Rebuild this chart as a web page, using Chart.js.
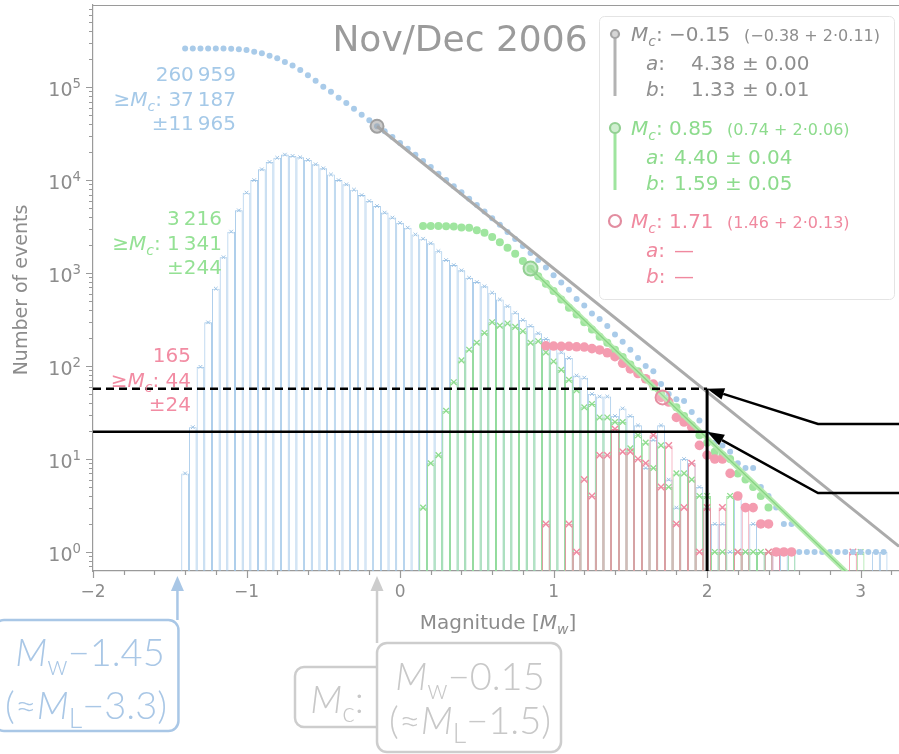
<!DOCTYPE html>
<html>
<head>
<meta charset="utf-8">
<title>Nov/Dec 2006 magnitude-frequency</title>
<script src="https://cdn.jsdelivr.net/npm/chart.js@4.4.1/dist/chart.umd.min.js"></script>
<style>
    html, body { margin: 0; padding: 0; background: #fff; }
    canvas { display: block; }
</style>
</head>
<body>
<canvas id="gr" width="899" height="754"></canvas>
<script>
// Magnitude bin centres (Mw), 0.05 wide
const magBins = [
    -1.40, -1.35, -1.30, -1.25, -1.20, -1.15, -1.10, -1.05, -1.00, -0.95,
    -0.90, -0.85, -0.80, -0.75, -0.70, -0.65, -0.60, -0.55, -0.50, -0.45,
    -0.40, -0.35, -0.30, -0.25, -0.20, -0.15, -0.10, -0.05, 0.00, 0.05,
    0.10, 0.15, 0.20, 0.25, 0.30, 0.35, 0.40, 0.45, 0.50, 0.55,
    0.60, 0.65, 0.70, 0.75, 0.80, 0.85, 0.90, 0.95, 1.00, 1.05,
    1.10, 1.15, 1.20, 1.25, 1.30, 1.35, 1.40, 1.45, 1.50, 1.55,
    1.60, 1.65, 1.70, 1.75, 1.80, 1.85, 1.90, 1.95, 2.00, 2.05,
    2.10, 2.15, 2.20, 2.25, 2.30, 2.35, 2.40, 2.45, 2.50, 2.55,
    2.60, 2.65, 2.70, 2.75, 2.80, 2.85, 2.90, 2.95, 3.00, 3.05,
    3.10, 3.15
];

// Events per bin: whole catalogue (blue), mid subset (green), high subset (red)
const histAll = [
    7, 22, 98, 295, 680, 1480, 2790, 4730, 7330, 10000,
    13060, 15670, 17400, 18800, 18200, 17600, 16500, 14800, 13400, 11500,
    10000, 9000, 7900, 6900, 5960, 5260, 4470, 3950, 3470, 3080,
    2600, 2340, 2090, 1720, 1380, 1220, 1070, 890, 800, 720,
    615, 520, 440, 375, 313, 270, 225, 195, 163, 140,
    122, 79, 75, 50, 47, 47, 29, 35, 29, 23,
    8, 16, 23, 6, 3, 10, 9, 5, 3, 2,
    2, 1, 4, 1, 2, 1, 1, 1, 1, 1,
    null, null, null, null, null, null, null, null, null, null,
    1, 1
];
const histMid = [
    null, null, null, null, null, null, null, null, null, null,
    null, null, null, null, null, null, null, null, null, null,
    null, null, null, null, null, null, null, null, null, null,
    null, 3, 9, 11, 33, 67, 115, 150, 178, 227,
    296, 272, 287, 264, 237, 178, 185, 140, 112, 91,
    71, 55, 36, 39, 28, 28, 25, 25, 13, 18,
    15, 8, 14, 5, 7, 7, 6, 4, 4, 1,
    1, 4, 1, 1, 1, 1, 1, null, null, 1,
    null, null, null, null, null, null, null, null, 1, null,
    null, null
];
const histHigh = [
    null, null, null, null, null, null, null, null, null, null,
    null, null, null, null, null, null, null, null, null, null,
    null, null, null, null, null, null, null, null, null, null,
    null, null, null, null, null, null, null, null, null, null,
    null, null, null, null, null, null, null, 2, null, null,
    2, 1, 6, 4, 11, 11, 21, 12, 12, 10,
    9, 18, 5, 14, 2, 3, 9, 1, 3, null,
    3, null, 1, 3, null, null, 1, 1, null, null,
    null, null, null, null, null, null, null, 1, null, null,
    null, null
];

// Cumulative counts (events >= M)
const cumAll = [
    261000, 261000, 260900, 260800, 260500, 259900, 258400, 255600, 251000, 241000,
    231000, 218000, 204000, 187000, 171000, 153000, 134000, 117000, 101000, 89000,
    77000, 67500, 58500, 50500, 44000, 38000, 33500, 29000, 25000, 21700,
    18700, 16100, 13800, 11700, 10000, 8600, 7400, 6300, 5400, 4600,
    3900, 3300, 2770, 2330, 1950, 1640, 1380, 1150, 950, 790,
    660, 526, 447, 367, 321, 269, 218, 182, 150, 122,
    100, 88, 64, 50, 44, 42, 32, 26, 19, 15,
    14, 12, 9, 8, 8, 5, 4, 3, 2, 2,
    1, 1, 1, 1, 1, 1, 1, 1, 1, 1,
    1, 1
];
const cumMid = [
    null, null, null, null, null, null, null, null, null, null,
    null, null, null, null, null, null, null, null, null, null,
    null, null, null, null, null, null, null, null, null, null,
    null, 3216, 3210, 3200, 3190, 3160, 3100, 3080, 2880, 2715,
    2440, 2150, 1870, 1615, 1345, 1112, 926, 767, 640, 520,
    423, 358, 295, 247, 206, 178, 150, 125, 104, 88,
    72, 60, 50, 42, 36, 29, 23, 18, 15, 12,
    11, 10, 7, 6, 5, 4, 3, 1, 1, 1,
    null, null, null, null, null, null, null, null, null, null,
    null, null
];
const cumHigh = [
    null, null, null, null, null, null, null, null, null, null,
    null, null, null, null, null, null, null, null, null, null,
    null, null, null, null, null, null, null, null, null, null,
    null, null, null, null, null, null, null, null, null, null,
    null, null, null, null, null, null, null, 165, 164, 163,
    163, 161, 160, 154, 149, 139, 126, 107, 93, 83,
    73, 64, 46, 41, 28, 25, 22, 14, 11, 10,
    10, 7, 4, 3, 3, 2, 2, 1, 1, 1,
    null, null, null, null, null, null, null, null, null, null,
    null, null
];

// Gutenberg-Richter fits (end points) and completeness magnitudes
const fitAllMag = [-0.15, 3.25];
const fitAllN = [38000, 1.15];
const fitMidMag = [0.85, 2.95];
const fitMidN = [1118, 0.52];
const mcMag = [-0.15, 0.85, 1.71];
const mcN = [38000, 1118, 46];

// Reference lines at Mw 2
const refMag = 2.0;
const refLevels = [57, 19.6];

// Axis ticks
const xTicks = [-2, -1, 0, 1, 2, 3];
const yTicks = [1, 10, 100, 1000, 10000, 100000];

// Colours
const BLUE = '#a0c6e8';
const GREEN = '#90df90';
const RED = '#f08aa1';
const GREY = '#ababab';
const TXT = '#8c8c8c';
const FONT = '"DejaVu Sans", sans-serif';
const BOXFONT = 'Lato, "Open Sans", sans-serif';

function toPoints(values) {
    const out = [];
    values.forEach((v, i) => {
        if (v !== null) out.push({ x: magBins[i], y: v });
    });
    return out;
}

function pairPoints(xs, ys) {
    return xs.map((x, i) => ({ x: x, y: ys[i] }));
}

function barSet(values, color, order) {
    return {
        type: 'bar', data: toPoints(values), order: order,
        backgroundColor: 'rgba(0,0,0,0)', borderColor: color, borderWidth: 0.85,
        inflateAmount: 0, borderSkipped: 'bottom',
        grouped: false, barPercentage: 1, categoryPercentage: 1
    };
}

function markSet(values, color, radius, width, order) {
    return {
        type: 'scatter', data: toPoints(values), order: order,
        pointStyle: 'crossRot', pointRadius: radius, borderColor: color, borderWidth: width
    };
}

function dotSet(values, color, radius, order) {
    return {
        type: 'scatter', data: toPoints(values), order: order,
        pointStyle: 'circle', pointRadius: radius, backgroundColor: color, borderWidth: 0
    };
}

function lineSet(data, color, width, order, dash) {
    return {
        type: 'line', data: data, order: order, borderColor: color, borderWidth: width,
        borderDash: dash || [], pointRadius: 0, fill: false, tension: 0
    };
}

// ---- rich text helpers (italic / sub / superscript pieces) ----
function partFont(p, size, family) {
    let s = size * (p.sc || 1);
    let dy = 0;
    if (p.sub) { s = size * 0.7; dy = size * 0.24; }
    if (p.sup) { s = size * 0.7; dy = -size * 0.42; }
    return { font: (p.it ? 'italic ' : '') + (p.w ? p.w + ' ' : '') + s + 'px ' + family, dy: dy };
}

function drawRich(ctx, parts, x, yc, size, color, align, family) {
    family = family || FONT;
    ctx.save();
    ctx.fillStyle = color;
    ctx.textBaseline = 'alphabetic';
    ctx.textAlign = 'left';
    const widths = parts.map(p => {
        ctx.font = partFont(p, size, family).font;
        return ctx.measureText(p.t).width;
    });
    const total = widths.reduce((a, b) => a + b, 0);
    let cx = align === 'right' ? x - total : (align === 'center' ? x - total / 2 : x);
    const base = yc + size * 0.36;
    parts.forEach((p, i) => {
        const f = partFont(p, size, family);
        ctx.font = f.font;
        ctx.fillText(p.t, cx, base + f.dy);
        cx += widths[i];
    });
    ctx.restore();
}

function roundBox(ctx, x, y, w, h, r, stroke, lw, fill) {
    ctx.beginPath();
    ctx.roundRect(x, y, w, h, r);
    if (fill) { ctx.fillStyle = fill; ctx.fill(); }
    ctx.strokeStyle = stroke;
    ctx.lineWidth = lw;
    ctx.stroke();
}

function arrowPath(ctx, pts, color, lw, headLen, headW) {
    const n = pts.length;
    const [tx, ty] = pts[n - 1];
    const [px, py] = pts[n - 2];
    const ang = Math.atan2(ty - py, tx - px);
    const bx = tx - headLen * Math.cos(ang);
    const by = ty - headLen * Math.sin(ang);
    ctx.save();
    ctx.strokeStyle = color;
    ctx.fillStyle = color;
    ctx.lineWidth = lw;
    ctx.beginPath();
    ctx.moveTo(pts[0][0], pts[0][1]);
    for (let i = 1; i < n - 1; i++) ctx.lineTo(pts[i][0], pts[i][1]);
    ctx.lineTo(bx, by);
    ctx.stroke();
    ctx.beginPath();
    ctx.moveTo(tx, ty);
    ctx.lineTo(bx + headW * Math.sin(ang), by - headW * Math.cos(ang));
    ctx.lineTo(bx - headW * Math.sin(ang), by + headW * Math.cos(ang));
    ctx.closePath();
    ctx.fill();
    ctx.restore();
}

const Mc = [{ t: 'M', it: true }, { t: 'c', it: true, sub: true }];

// ---- everything drawn around the data ----
const decorations = {
    id: 'decorations',
    afterDraw(chart) {
        const ctx = chart.ctx;
        const xs = chart.scales.x;
        const ys = chart.scales.y;
        const area = chart.chartArea;

        // ticks (major + minor)
        ctx.save();
        ctx.strokeStyle = '#9a9a9a';
        ctx.lineWidth = 1.2;
        ctx.beginPath();
        for (let k = 0; k <= 26; k++) {
            const v = -2 + k * 0.2;
            const px = Math.round(xs.getPixelForValue(v)) + 0.5;
            ctx.moveTo(px, area.bottom);
            ctx.lineTo(px, area.bottom + (k % 5 === 0 ? 7 : 4));
        }
        for (let e = -1; e <= 5; e++) {
            for (let m = 1; m <= 9; m++) {
                const v = m * Math.pow(10, e);
                if (v < ys.min || v > ys.max) continue;
                const py = Math.round(ys.getPixelForValue(v)) + 0.5;
                ctx.moveTo(area.left, py);
                ctx.lineTo(area.left - (m === 1 ? 7 : 4), py);
            }
        }
        ctx.stroke();
        // top spine
        ctx.beginPath();
        ctx.moveTo(area.left, area.top + 0.5);
        ctx.lineTo(area.right, area.top + 0.5);
        ctx.stroke();
        ctx.restore();

        // y tick labels as 10^n
        yTicks.forEach(v => {
            const e = String(Math.round(Math.log10(v)));
            drawRich(ctx, [{ t: '10' }, { t: e, sup: true }], area.left - 12, ys.getPixelForValue(v) + 2, 19, TXT, 'right');
        });

        // axis titles
        ctx.save();
        ctx.fillStyle = TXT;
        ctx.font = '19px ' + FONT;
        ctx.textAlign = 'center';
        ctx.textBaseline = 'middle';
        ctx.translate(22, 290);
        ctx.rotate(-Math.PI / 2);
        ctx.fillText('Number of events', 0, 0);
        ctx.restore();
        drawRich(ctx, [{ t: 'Magnitude [' }, { t: 'M', it: true }, { t: 'w', it: true, sub: true }, { t: ']' }],
            498, 622, 20, TXT, 'center');

        // period title
        drawRich(ctx, [{ t: 'Nov/Dec 2006' }], 460, 38, 36, '#9b9b9b', 'center');

        // event counts
        const counts = [
            { c: '#a5c9e8', x: 236, y: 74, rows: ['260\u2009959', '37\u2009187', '\u00b111\u2009965'] },
            { c: '#94e194', x: 222, y: 218, rows: ['3\u2009216', '1\u2009341', '\u00b1244'] },
            { c: '#f28ca3', x: 191, y: 355, rows: ['165', '44', '\u00b124'] }
        ];
        counts.forEach(g => {
            drawRich(ctx, [{ t: g.rows[0] }], g.x, g.y, 20, g.c, 'right');
            drawRich(ctx, [{ t: '\u2265' }].concat(Mc, [{ t: ': ' + g.rows[1] }]), g.x, g.y + 24.5, 20, g.c, 'right');
            drawRich(ctx, [{ t: g.rows[2] }], g.x, g.y + 49, 20, g.c, 'right');
        });

        // legend box
        ctx.save();
        roundBox(ctx, 599.5, 16.5, 295, 283, 5, '#e4e4e4', 1, 'rgba(255,255,255,0.82)');
        const legendRows = [
            { c: '#8e8e8e', line: '#b3b3b3', r: 4, y: 34, mc: ': \u22120.15', small: '(\u22120.38 + 2\u00b70.11)', sx: 744,
              a: '4.38 \u00b1 0.00', b: '1.33 \u00b1 0.01', vx: 691, ring: 'rgba(180,180,180,0.55)', ringLine: '#a5a5a5', end: 96 },
            { c: '#8ddb8d', line: '#9fe59f', r: 5, y: 128, mc: ': 0.85', small: '(0.74 + 2\u00b70.06)', sx: 727,
              a: '4.40 \u00b1 0.04', b: '1.59 \u00b1 0.05', vx: 674, ring: 'rgba(170,225,170,0.55)', ringLine: '#93d093', end: 190 },
            { c: '#f0899f', line: null, r: 6, y: 221, mc: ': 1.71', small: '(1.46 + 2\u00b70.13)', sx: 727,
              a: '\u2014', b: '\u2014', vx: 674, ring: 'rgba(255,255,255,0)', ringLine: '#e28da0', end: 0 }
        ];
        legendRows.forEach(r => {
            if (r.line) {
                ctx.strokeStyle = r.line;
                ctx.lineWidth = 3;
                ctx.beginPath();
                ctx.moveTo(615, r.y + r.r);
                ctx.lineTo(615, r.end);
                ctx.stroke();
            }
            ctx.beginPath();
            ctx.arc(615, r.y, r.r, 0, Math.PI * 2);
            ctx.fillStyle = r.ring;
            ctx.fill();
            ctx.strokeStyle = r.ringLine;
            ctx.lineWidth = 2.2;
            ctx.stroke();
            drawRich(ctx, Mc.concat([{ t: r.mc }]), 631, r.y, 20, r.c, 'left');
            drawRich(ctx, [{ t: r.small }], r.sx, r.y + 1, 16, r.c, 'left');
            drawRich(ctx, [{ t: 'a', it: true }, { t: ':' }], 646, r.y + 29, 20, r.c, 'left');
            drawRich(ctx, [{ t: r.a }], r.vx, r.y + 29, 20, r.c, 'left');
            drawRich(ctx, [{ t: 'b', it: true }, { t: ':' }], 646, r.y + 55, 20, r.c, 'left');
            drawRich(ctx, [{ t: r.b }], r.vx, r.y + 55, 20, r.c, 'left');
        });
        ctx.restore();

        // arrows from the right margin to the Mw 2 levels
        const tipX = xs.getPixelForValue(refMag);
        arrowPath(ctx, [[905, 424], [818, 424], [tipX, ys.getPixelForValue(refLevels[0])]], '#000', 2.5, 17, 6);
        arrowPath(ctx, [[905, 493], [818, 493], [tipX, ys.getPixelForValue(refLevels[1])]], '#000', 2.5, 17, 6);

        // completeness call-outs below the axis
        const blueX = xs.getPixelForValue(-1.45);
        const greyX = xs.getPixelForValue(mcMag[0]);
        const boxBlue = '#a9c7e6';
        const boxGrey = '#cdcdcd';
        arrowPath(ctx, [[blueX, 620], [blueX, 576]], boxBlue, 2.5, 15, 6.5);
        arrowPath(ctx, [[greyX, 643], [greyX, 576]], boxGrey, 2.5, 15, 6.5);

        ctx.save();
        roundBox(ctx, -6, 620, blueX + 7, 111, 10, boxBlue, 2.5, null);
        roundBox(ctx, 295, 667, 95, 60, 9, boxGrey, 2.5, '#fff');
        roundBox(ctx, greyX, 643, 184, 109, 10, boxGrey, 2.5, '#fff');
        ctx.restore();

        drawRich(ctx, [{ t: 'M', it: true, w: 300 }, { t: 'w', sub: true, w: 300 }, { t: '\u22121.45', w: 300 }], 90, 652, 38, boxBlue, 'center', BOXFONT);
        drawRich(ctx, [{ t: '(\u2248', w: 300 }, { t: 'M', it: true, w: 300 }, { t: 'L', sub: true, w: 300 }, { t: '\u22123.3)', w: 300 }], 86, 705, 38, boxBlue, 'center', BOXFONT);
        drawRich(ctx, [{ t: 'M', it: true, w: 300 }, { t: 'c', sub: true, w: 300 }, { t: ':', w: 300 }], 337, 699, 38, '#c8c8c8', 'center', BOXFONT);
        drawRich(ctx, [{ t: 'M', it: true, w: 300 }, { t: 'w', sub: true, w: 300 }, { t: '\u22120.15', w: 300 }], 470, 676, 38, '#c8c8c8', 'center', BOXFONT);
        drawRich(ctx, [{ t: '(\u2248', w: 300 }, { t: 'M', it: true, w: 300 }, { t: 'L', sub: true, w: 300 }, { t: '\u22121.5)', w: 300 }], 470, 720, 38, '#c8c8c8', 'center', BOXFONT);
    }
};

Chart.defaults.font.family = FONT;

const yMin = 0.624;
const yMax = 765000;

const datasets = [
    barSet(histAll, BLUE, 40),
    barSet(histMid, GREEN, 39),
    barSet(histHigh, RED, 38),
    markSet(histAll, '#9ec3e4', 2.6, 1, 37),
    markSet(histMid, '#8edc8e', 4, 1.3, 36),
    markSet(histHigh, '#ef8aa1', 4.6, 1.4, 35),
    dotSet(cumMid, '#9fe59f', 4, 30),
    dotSet(cumHigh, '#f49cb0', 4.8, 29),
    dotSet(cumAll, '#a9cbe9', 3, 28),
    lineSet(pairPoints(fitAllMag, fitAllN), GREY, 3, 20),
    lineSet(pairPoints(fitMidMag, fitMidN), 'rgba(178,234,172,0.95)', 5, 19),
    lineSet(pairPoints(fitMidMag, fitMidN), '#86d483', 1.3, 18),
    lineSet([{ x: -2, y: refLevels[0] }, { x: refMag, y: refLevels[0] }], '#000', 2.5, 10, [8, 5]),
    lineSet([{ x: -2, y: refLevels[1] }, { x: refMag, y: refLevels[1] }], '#000', 2.5, 10),
    lineSet([{ x: refMag, y: refLevels[0] }, { x: refMag, y: yMin }], '#000', 3, 10),
    {
        type: 'scatter', data: pairPoints(mcMag, mcN), order: 1,
        pointStyle: 'circle', pointRadius: [6.5, 7, 7],
        backgroundColor: ['rgba(160,160,160,0.55)', 'rgba(160,220,160,0.55)', 'rgba(255,255,255,0.15)'],
        borderColor: ['#a0a0a0', '#92cf92', '#e58ea1'], borderWidth: 2
    }
];

new Chart(document.getElementById('gr'), {
    type: 'bar',
    data: { datasets: datasets },
    options: {
        responsive: false,
        animation: false,
        events: [],
        layout: { autoPadding: false, padding: { top: 5, left: 0, right: 0, bottom: 0 } },
        plugins: { legend: { display: false }, tooltip: { enabled: false } },
        scales: {
            x: {
                type: 'linear', min: -2, max: 3.25, offset: false, bounds: 'data',
                grid: { display: false, drawTicks: true, tickLength: 7 },
                border: { display: true, color: '#9a9a9a', width: 1.2 },
                ticks: {
                    autoSkip: false, maxRotation: 0, padding: 4, color: TXT, font: { size: 17 },
                    callback: v => (v < 0 ? '\u2212' + Math.abs(v) : String(v))
                },
                afterBuildTicks: s => { s.ticks = xTicks.map(v => ({ value: v })); },
                afterFit: s => { s.height = 183; s.paddingLeft = 0; s.paddingRight = 0; }
            },
            y: {
                type: 'logarithmic', min: yMin, max: yMax, bounds: 'data',
                grid: { display: false, drawTicks: false },
                border: { display: true, color: '#9a9a9a', width: 1.2 },
                ticks: { display: false },
                afterBuildTicks: s => { s.ticks = yTicks.map(v => ({ value: v })); },
                afterFit: s => { s.width = 93; s.paddingTop = 0; s.paddingBottom = 0; }
            }
        }
    },
    plugins: [decorations]
});
</script>
</body>
</html>
